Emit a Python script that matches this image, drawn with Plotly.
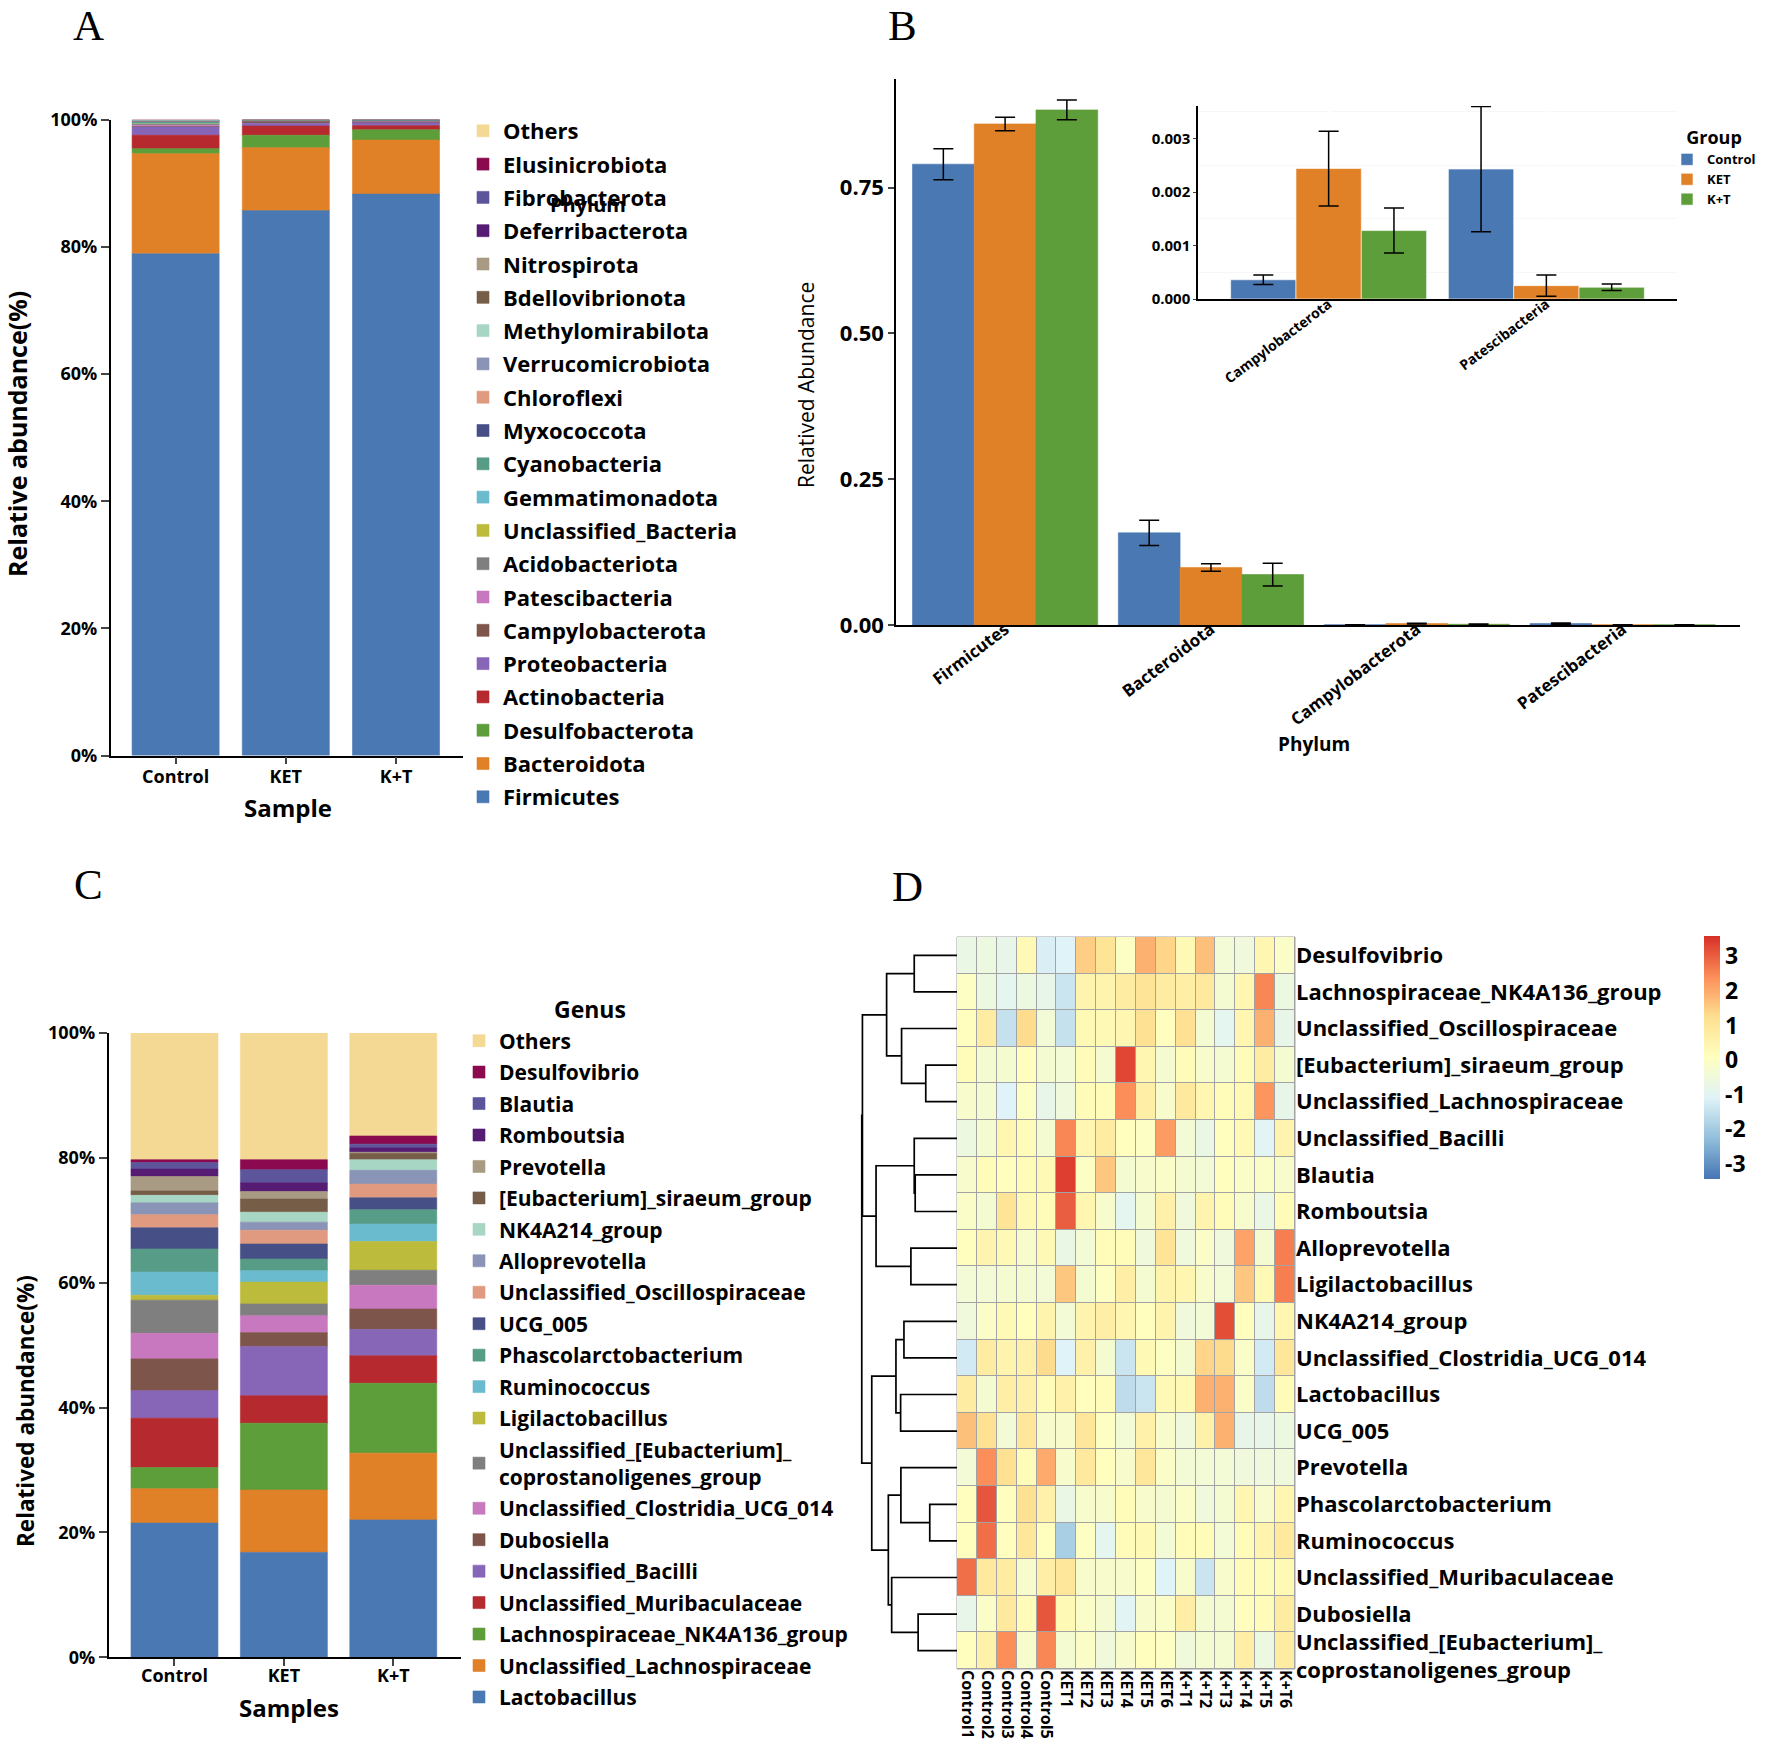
import plotly.graph_objects as go

W, H = 1772, 1746


def px(x):
    return x / W


def py(y):
    return 1 - y / H


FONT = "Open Sans"


def bf(size, color="#000000", weight="bold", family=FONT):
    return dict(family=family, size=size, color=color, weight=weight)


# ---------------- data ----------------
groups = ["Control", "KET", "K+T"]

# Panel A (phylum, stacked bottom -> top), percent
phyla = ["Firmicutes", "Bacteroidota", "Desulfobacterota", "Actinobacteria", "Proteobacteria",
         "Campylobacterota", "Patescibacteria", "Acidobacteriota", "Unclassified_Bacteria",
         "Gemmatimonadota", "Cyanobacteria", "Myxococcota", "Chloroflexi", "Verrucomicrobiota",
         "Methylomirabilota", "Bdellovibrionota", "Nitrospirota", "Deferribacterota",
         "Fibrobacterota", "Elusinicrobiota", "Others"]
phylum_control = [78.9, 15.75, 0.8, 2.1, 1.3, 0.04, 0.24, 0.15, 0.05, 0.12, 0.15, 0.04, 0.06, 0.10,
                  0.04, 0.03, 0.02, 0.02, 0.02, 0.02, 0.05]
phylum_ket = [85.7, 9.9, 1.95, 1.45, 0.45, 0.24, 0.03, 0.02, 0.01, 0.02, 0.03, 0.02, 0.02, 0.03,
              0.01, 0.06, 0.01, 0.02, 0.01, 0.01, 0.01]
phylum_kt = [88.3, 8.5, 1.6, 0.66, 0.45, 0.13, 0.02, 0.04, 0.03, 0.03, 0.05, 0.02, 0.03, 0.04,
             0.03, 0.02, 0.01, 0.02, 0.01, 0.01, 0.03]

# Panel C (genus, stacked bottom -> top), percent
genera = ["Lactobacillus", "Unclassified_Lachnospiraceae", "Lachnospiraceae_NK4A136_group",
          "Unclassified_Muribaculaceae", "Unclassified_Bacilli", "Dubosiella",
          "Unclassified_Clostridia_UCG_014", "Unclassified_[Eubacterium]_coprostanoligenes_group",
          "Ligilactobacillus", "Ruminococcus", "Phascolarctobacterium", "UCG_005",
          "Unclassified_Oscillospiraceae", "Alloprevotella", "NK4A214_group",
          "[Eubacterium]_siraeum_group", "Prevotella", "Romboutsia", "Blautia", "Desulfovibrio",
          "Others"]
genus_control = [21.5, 5.5, 3.4, 7.9, 4.4, 5.1, 4.1, 5.3, 0.8, 3.7, 3.7, 3.4, 2.1, 1.9, 1.2, 0.7,
                 2.3, 1.2, 1.06, 0.44, 20.3]
genus_ket = [16.8, 10.0, 10.7, 4.4, 7.9, 2.2, 2.7, 1.9, 3.5, 1.8, 1.9, 2.4, 2.2, 1.3, 1.6, 2.1,
             1.2, 1.4, 2.1, 1.6, 20.3]
genus_kt = [22.0, 10.7, 11.2, 4.4, 4.2, 3.3, 3.8, 2.4, 4.6, 2.8, 2.3, 1.9, 2.2, 2.2, 1.7, 1.0,
            0.2, 0.7, 0.6, 1.3, 16.5]

stack_colors = ["#4A78B2", "#E18127", "#5E9E3A", "#B6292E", "#8766B8", "#7E554A", "#C878BE",
                "#7F7F7F", "#BDBB3C", "#6BBBCF", "#579C86", "#465086", "#E09A80", "#8A94B6",
                "#A8D6C4", "#765D48", "#A99B83", "#561B72", "#5C559B", "#8B0A4F", "#F4D994"]

# Panel B (relative abundance, mean and error)
b_phyla = ["Firmicutes", "Bacteroidota", "Campylobacterota", "Patescibacteria"]
b_control_mean = [0.790, 0.158, 0.00036, 0.00243]
b_control_err = [0.0265, 0.0215, 0.00009, 0.00117]
b_ket_mean = [0.859, 0.0987, 0.00244, 0.00025]
b_ket_err = [0.0115, 0.0065, 0.00070, 0.00020]
b_kt_mean = [0.883, 0.0865, 0.00128, 0.00022]
b_kt_err = [0.017, 0.0195, 0.00042, 0.00006]
group_colors = ["#4A78B2", "#E18127", "#5E9E3A"]

# Panel D (z-scored heatmap)
heat_rows = ["Desulfovibrio", "Lachnospiraceae_NK4A136_group", "Unclassified_Oscillospiraceae",
             "[Eubacterium]_siraeum_group", "Unclassified_Lachnospiraceae", "Unclassified_Bacilli",
             "Blautia", "Romboutsia", "Alloprevotella", "Ligilactobacillus", "NK4A214_group",
             "Unclassified_Clostridia_UCG_014", "Lactobacillus", "UCG_005", "Prevotella",
             "Phascolarctobacterium", "Ruminococcus", "Unclassified_Muribaculaceae", "Dubosiella",
             "Unclassified_[Eubacterium]_coprostanoligenes_group"]
heat_cols = ["Control1", "Control2", "Control3", "Control4", "Control5", "KET1", "KET2", "KET3",
             "KET4", "KET5", "KET6", "K+T1", "K+T2", "K+T3", "K+T4", "K+T5", "K+T6"]
heat_z = [
    [-0.7, -0.6, -0.8, 0.3, -1.2, -1.1, 1.5, 1.1, 0.0, 1.9, 1.4, 0.3, 1.7, -0.4, -0.5, 0.4, -0.1],
    [0.0, -0.6, -0.9, -0.6, -0.8, -1.4, 0.5, 0.5, 0.8, 1.1, 0.8, 0.7, 0.9, -0.3, 0.4, 2.5, -0.6],
    [0.1, 0.8, -1.5, 1.3, -0.4, -1.5, 0.3, 0.3, 0.4, 1.2, 0.1, 1.2, -0.3, -0.9, 0.4, 1.9, -0.8],
    [0.2, -0.3, -0.3, 0.1, -0.3, -0.4, 0.2, -0.3, 3.3, 0.4, -0.3, 0.2, -0.2, -0.3, 0.2, 0.8, -0.3],
    [-0.2, -0.3, -1.1, 0.0, -0.8, -0.5, 0.2, 0.2, 2.4, 0.7, -0.2, 0.9, 0.4, 0.2, 0.3, 2.3, -0.8],
    [-0.6, -0.3, 0.4, 0.2, -0.3, 2.5, 0.4, 0.8, 0.1, 0.0, 2.2, -0.4, -0.7, 0.1, 0.3, -1.0, 0.5],
    [-0.2, 0.2, 0.1, 0.2, 0.3, 3.4, 0.0, 1.6, -0.3, -0.2, -0.1, -0.3, -0.4, 0.1, -0.1, -0.1, -0.2],
    [-0.1, -0.3, 1.1, 0.3, 0.2, 3.0, 0.4, -0.2, -0.9, -0.3, 0.6, -0.5, 0.5, 0.2, -0.2, -0.7, 0.2],
    [0.1, 0.5, 0.3, -0.2, 0.3, -0.7, -0.4, 0.2, 0.2, -0.5, 1.1, -0.5, -0.1, -0.5, 2.1, -0.3, 2.6],
    [-0.4, -0.4, -0.3, -0.3, -0.4, 1.6, -0.3, 0.0, 0.7, -0.3, 0.5, 0.4, -0.2, -0.4, 1.6, 0.3, 2.6],
    [-0.5, -0.1, 0.3, 0.1, 0.5, -0.4, 0.5, 0.7, 0.4, 0.1, 0.5, -0.5, -0.4, 3.2, 0.1, -0.8, 0.4],
    [-1.3, 0.8, 0.5, 0.6, 1.3, -1.1, 0.6, -0.3, -1.4, 0.3, 0.0, -0.3, 1.4, 1.3, -0.1, -1.3, 1.0],
    [0.8, -0.3, 0.7, 0.6, 0.2, 0.6, 0.1, 0.2, -1.6, -1.4, 0.3, 0.3, 1.9, 1.9, -0.1, -1.6, 0.2],
    [1.7, 1.2, -0.4, 1.0, -0.2, -0.2, 1.0, 0.0, -0.4, 0.6, -0.2, -0.5, 0.6, 1.9, -0.8, -0.8, -0.6],
    [-0.4, 2.4, 1.2, 0.2, 2.0, -0.2, 0.9, 0.1, -0.2, 1.0, -0.1, -0.4, -0.4, -0.4, -0.5, -0.5, -0.5],
    [0.1, 3.1, 0.1, 1.2, 0.6, -0.7, -0.2, -0.2, 0.2, -0.2, -0.3, -0.1, -0.5, -0.3, 0.4, -0.2, 0.4],
    [0.1, 2.8, 0.1, 1.0, 0.1, -1.9, 0.0, -0.9, 0.2, 0.3, -0.4, 0.2, 0.2, -0.4, 0.2, 0.5, 0.9],
    [2.8, 0.9, 0.8, -0.2, 0.7, 1.0, -0.2, -0.2, -0.2, 0.0, -1.1, -0.2, -1.4, -0.2, 0.2, 0.2, 0.3],
    [-0.8, -0.1, 0.9, 0.2, 3.1, 0.3, -0.1, -0.3, -1.0, -0.2, -0.1, 0.7, -0.3, -0.3, 0.1, 0.2, 0.8],
    [0.1, 0.6, 2.4, -0.2, 2.5, -0.3, -0.1, -0.5, -0.2, 0.1, 0.0, -0.5, -0.3, -0.3, 0.7, -0.6, 0.8],
]
# row clustering: (child a, child b, merge height); leaves 0..19, new nodes 20, 21, ...
dendro_merges = [
    (0, 1, 4.49), (3, 4, 3.28), (2, 21, 5.82), (20, 22, 7.39),
    (6, 7, 4.39), (5, 24, 4.49), (8, 9, 4.84), (25, 26, 8.50), (23, 27, 9.93),
    (10, 11, 5.57), (12, 13, 5.92), (29, 30, 6.41), (15, 16, 2.86), (14, 32, 5.89),
    (18, 19, 4.08), (17, 34, 6.86), (33, 35, 7.21), (31, 36, 8.95), (28, 37, 10.0),
]
heat_ticks = [-3, -2, -1, 0, 1, 2, 3]
heat_colorscale = [[0, "#4575B4"], [1 / 6, "#91BFDB"], [2 / 6, "#E0F3F8"], [3 / 6, "#FFFFBF"],
                   [4 / 6, "#FEE090"], [5 / 6, "#FC8D59"], [1, "#D73027"]]


def display_name(n):
    return n.replace("]_coprostanoligenes", "]_<br>coprostanoligenes")


fig = go.Figure()


def add_stack(names, series, xa, ya, legend, width):
    # cumulative bases (bottom -> top), traces added top -> bottom so legend reads like the chart
    bases = []
    run = [0.0] * len(groups)
    for i in range(len(names)):
        bases.append(list(run))
        run = [r + s[i] for r, s in zip(run, series)]
    for i in reversed(range(len(names))):
        vals = [s[i] for s in series]
        fig.add_trace(go.Bar(
            x=groups, y=vals, base=bases[i], width=width, offset=-width / 2,
            marker=dict(color=stack_colors[i], line=dict(color=stack_colors[i], width=0.6)),
            name=display_name(names[i]), legend=legend, legendgroup=f"{legend}_{i}",
            xaxis=xa, yaxis=ya, hoverinfo="skip"))


# Panel A
add_stack(phyla, [phylum_control, phylum_ket, phylum_kt], "x", "y", "legend", 0.79)
# Panel C
add_stack(genera, [genus_control, genus_ket, genus_kt], "x4", "y4", "legend2", 0.795)

# Panel B main + inset
b_means = [b_control_mean, b_ket_mean, b_kt_mean]
b_errs = [b_control_err, b_ket_err, b_kt_err]
for gi, g in enumerate(groups):
    fig.add_trace(go.Bar(
        x=b_phyla, y=b_means[gi], name=g, showlegend=False,
        marker=dict(color=group_colors[gi], line=dict(color=group_colors[gi], width=0.6)),
        error_y=dict(type="data", array=b_errs[gi], color="#000000", thickness=1.5, width=10),
        xaxis="x2", yaxis="y2", hoverinfo="skip"))
for gi, g in enumerate(groups):
    fig.add_trace(go.Bar(
        x=b_phyla[2:], y=b_means[gi][2:], name=g, legend="legend3",
        marker=dict(color=group_colors[gi], line=dict(color="#FFFFFF", width=0.6)),
        error_y=dict(type="data", array=b_errs[gi][2:], color="#000000", thickness=1.5, width=10),
        xaxis="x3", yaxis="y3", hoverinfo="skip"))

# Panel D heatmap
fig.add_trace(go.Heatmap(
    z=heat_z, x=heat_cols, y=list(range(len(heat_rows))), colorscale=heat_colorscale,
    zmin=-3.43, zmax=3.58, xgap=1, ygap=1, xaxis="x5", yaxis="y5", hoverinfo="skip",
    colorbar=dict(x=px(1704), xanchor="left", xpad=0, y=py(936), yanchor="top", ypad=0,
                  len=(1179 - 936) / H, lenmode="fraction", thickness=16, outlinewidth=0,
                  ticks="", tickvals=heat_ticks, ticktext=[str(t) for t in heat_ticks],
                  tickfont=bf(23))))

# dendrogram from merges
n_leaf = len(heat_rows)
pos = {i: float(i) for i in range(n_leaf)}
hgt = {i: 0.0 for i in range(n_leaf)}
dx, dy = [], []
for k, (a, b, h) in enumerate(dendro_merges):
    node = n_leaf + k
    dx += [hgt[a], h, h, hgt[b], None]
    dy += [pos[a], pos[a], pos[b], pos[b], None]
    pos[node] = (pos[a] + pos[b]) / 2
    hgt[node] = h
fig.add_trace(go.Scatter(x=dx, y=dy, mode="lines", line=dict(color="#000000", width=1.7),
                         showlegend=False, xaxis="x6", yaxis="y6", hoverinfo="skip"))

# row-label positions: the two-line last label sits a little lower so it clears the row above
row_tickvals = [i + (0.15 if "<br>" in display_name(r) else 0) for i, r in enumerate(heat_rows)]

axis_common = dict(showline=True, linecolor="#000000", zeroline=False, showgrid=False,
                   automargin=False)
pct_ticks = [0, 20, 40, 60, 80, 100]


def ann(text, x, y, font, angle=0, yanchor="middle"):
    return dict(text=text, x=px(x), y=py(y), xref="paper", yref="paper", showarrow=False,
                xanchor="center", yanchor=yanchor, textangle=angle, font=font)


serif = dict(family="Liberation Serif", size=43, color="#000000")

layout = dict(
    width=W, height=H, autosize=False, margin=dict(l=0, r=0, t=0, b=0, autoexpand=False),
    paper_bgcolor="#FFFFFF", plot_bgcolor="#FFFFFF", barmode="group", bargap=0.1,
    bargroupgap=0, hovermode=False,
    # Panel A
    xaxis=dict(axis_common, domain=[px(110.7), px(463)], anchor="y", range=[-0.589, 2.608],
               linewidth=1.5, ticks="outside", ticklen=7, tickwidth=1.5, tickfont=bf(18),
               ticklabelstandoff=-3),
    yaxis=dict(axis_common, domain=[py(755.6), py(119.7)], anchor="x", range=[0, 100],
               tickvals=pct_ticks, ticktext=[f"{t}%" for t in pct_ticks], linewidth=1.5,
               ticks="outside", ticklen=8, tickwidth=1.5, tickfont=bf(18)),
    # Panel B main
    xaxis2=dict(axis_common, domain=[px(896), px(1740)], anchor="y2", range=[-0.53, 3.57],
                linewidth=2, ticks="", tickangle=-37, tickfont=bf(17), ticklabelstandoff=-14),
    yaxis2=dict(axis_common, domain=[py(625), py(79)], anchor="x2", range=[0, 0.936],
                tickvals=[0, 0.25, 0.5, 0.75], tickformat=".2f", linewidth=1.5,
                ticks="outside", ticklen=6, tickwidth=1.5, tickfont=bf(22)),
    # Panel B inset
    xaxis3=dict(axis_common, domain=[px(1198), px(1677)], anchor="y3", range=[-0.6, 1.6],
                linewidth=1.5, ticks="", tickangle=-37, tickfont=bf(14), showgrid=True,
                gridcolor="#FFFFFF", gridwidth=1.5, ticklabelstandoff=-10),
    yaxis3=dict(axis_common, domain=[py(299), py(106)], anchor="x3", range=[0, 0.00361],
                dtick=0.001, tickformat=".3f", linewidth=1.5, ticks="outside", ticklen=3,
                tickfont=bf(15), showgrid=True, gridcolor="#FFFFFF", gridwidth=1.5,
                minor=dict(dtick=0.0005, showgrid=True, gridcolor="#F7F7F7", gridwidth=0.8)),
    # Panel C
    xaxis4=dict(axis_common, domain=[px(108.5), px(461)], anchor="y4", range=[-0.603, 2.619],
                linewidth=1.5, ticks="outside", ticklen=7, tickwidth=1.5, tickfont=bf(18),
                ticklabelstandoff=-6),
    yaxis4=dict(axis_common, domain=[py(1657.3), py(1033)], anchor="x4", range=[0, 100],
                tickvals=pct_ticks, ticktext=[f"{t}%" for t in pct_ticks], linewidth=1.5,
                ticks="outside", ticklen=8, tickwidth=1.5, tickfont=bf(18)),
    # Panel D heatmap
    xaxis5=dict(domain=[px(957), px(1295)], anchor="y5", showline=False, showgrid=False,
                zeroline=False, ticks="", tickangle=90, tickfont=bf(16), automargin=False),
    yaxis5=dict(domain=[py(1669), py(937)], anchor="x5", side="right", range=[19.5, -0.5],
                tickvals=row_tickvals,
                ticktext=[display_name(r) for r in heat_rows], showline=False, showgrid=False,
                zeroline=False, ticks="", tickfont=bf(22), automargin=False),
    xaxis6=dict(domain=[px(857), px(957)], anchor="y6", range=[10.5, 0], visible=False),
    yaxis6=dict(domain=[py(1669), py(937)], anchor="x6", range=[19.5, -0.5], visible=False),
    legend=dict(x=px(463), y=py(110), xanchor="left", yanchor="top", font=bf(22),
                tracegroupgap=1.7, traceorder="grouped", bgcolor="rgba(0,0,0,0)"),
    legend2=dict(x=px(459), y=py(1020.5), xanchor="left", yanchor="top", font=bf(21),
                 tracegroupgap=1.15, traceorder="grouped", bgcolor="rgba(0,0,0,0)"),
    legend3=dict(x=px(1667), y=py(121), xanchor="left", yanchor="top", font=bf(13),
                 title=dict(text="Group", font=bf(18), side="top center"),
                 bgcolor="rgba(0,0,0,0)"),
    shapes=[
        dict(type="rect", xref="x3 domain", yref="y3 domain", x0=0, x1=1, y0=0, y1=1,
             fillcolor="#EBEBEB", line=dict(width=0), layer="below"),
        dict(type="rect", xref="x5 domain", yref="y5 domain", x0=0, x1=1, y0=0, y1=1,
             fillcolor="#A3A3A3", line=dict(color="#A3A3A3", width=1), layer="below"),
    ],
    annotations=[
        ann("A", 88, 0, serif, yanchor="top"), ann("B", 902, 0, serif, yanchor="top"),
        ann("C", 88, 884, serif), ann("D", 907, 886, serif),
        ann("Phylum", 588, 204, bf(20)),
        ann("Genus", 590, 1009, bf(23)),
        ann("Relative abundance(%)", 17, 434, bf(25), -90),
        ann("Sample", 288, 807, bf(24)),
        ann("Relatived abundance(%)", 25, 1411, bf(22.5), -90),
        ann("Samples", 289, 1707, bf(24)),
        ann("Relatived Abundance", 806, 385, bf(21, weight="normal"), -90),
        ann("Phylum", 1314, 744, bf(19)),
    ],
)
fig.update_layout(**layout)
fig.write_html("out.html", config={"displayModeBar": False},
               post_script="document.body.style.margin='0px';")
